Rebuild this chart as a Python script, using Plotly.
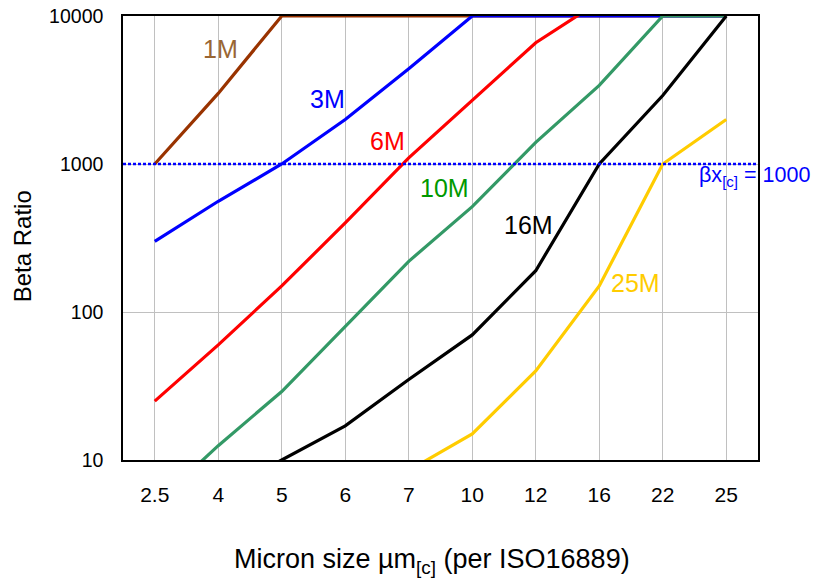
import plotly.graph_objects as go

categories = ["2.5", "4", "5", "6", "7", "10", "12", "16", "22", "25"]

beta_1M = [1000, 3000, 10000, 10000, 10000, 10000, 10000, 10000, 10000, 10000]
beta_3M = [300, 560, 1000, 2000, 4400, 10000, 10000, 10000, 10000, 10000]
beta_6M = [25, 60, 150, 400, 1100, 2700, 6600, 12500, None, None]
beta_10M = [5, 12.5, 29, 80, 220, 515, 1400, 3400, 10000, 10000]
beta_16M = [3, 6, 10, 17, 35, 70, 190, 1000, 2900, 10000]
beta_25M = [1, 2, 3.5, 5.5, 8.5, 15, 40, 150, 1000, 2000]

series_names = ["1M", "3M", "6M", "10M", "16M", "25M"]
series_values = [beta_1M, beta_3M, beta_6M, beta_10M, beta_16M, beta_25M]
line_colors = ["#993300", "#0000FF", "#FF0000", "#339966", "#000000", "#FFCC00"]
label_colors = ["#996633", "#0000FF", "#FF0000", "#009900", "#000000", "#FFCC00"]

threshold_value = 1000
y_ticks = [10, 100, 1000, 10000]

FONT = "Arial, Liberation Sans, sans-serif"

fig = go.Figure()
for name, vals, col in zip(series_names, series_values, line_colors):
    fig.add_trace(go.Scatter(
        x=categories, y=vals, mode="lines", name=name,
        line=dict(color=col, width=3.2), connectgaps=False,
        showlegend=False, hoverinfo="x+y+name"))

# reference line spanning full plot width
fig.add_trace(go.Scatter(
    x=[0, 1], y=[threshold_value, threshold_value], xaxis="x2", mode="lines",
    line=dict(color="#0000FF", width=2.5, dash="3px,2px"), showlegend=False,
    hoverinfo="skip"))

# page body has an 8px default margin; compensate so the plot sits where intended
OFF = 8
W, H = 820 - OFF, 581 - OFF
L, R, T, B = 122.7, 757.7, 16, 460   # target page pixel positions
pw, ph = R - L, B - T


def px(x):
    return (x - L) / pw


def py(y):
    return (B - y) / ph


label_pos = [(220, 49), (327.5, 99), (387, 141), (444, 188), (527.7, 225), (635, 283)]
annotations = []
for name, (x, y), col in zip(series_names, label_pos, label_colors):
    annotations.append(dict(
        x=px(x), y=py(y), xref="paper", yref="paper", text=name,
        showarrow=False, font=dict(family=FONT, size=25, color=col),
        xanchor="center", yanchor="middle"))

annotations.append(dict(
    x=px(697), y=py(176), xref="paper", yref="paper",
    text="βx<sub>[c]</sub> = 1000", showarrow=False,
    font=dict(family=FONT, size=21.5, color="#0000FF"),
    xanchor="left", yanchor="middle"))

annotations.append(dict(
    x=px(22), y=py(246), xref="paper", yref="paper",
    text="Beta Ratio", textangle=-90, showarrow=False,
    font=dict(family=FONT, size=24, color="#000000"),
    xanchor="center", yanchor="middle"))

annotations.append(dict(
    x=px(432), y=py(561), xref="paper", yref="paper",
    text="Micron size µm<sub>[c]</sub> (per ISO16889)", showarrow=False,
    font=dict(family=FONT, size=27, color="#000000"),
    xanchor="center", yanchor="middle"))

fig.update_layout(
    width=W, height=H,
    margin=dict(l=L - OFF, r=(820 - R), t=T - OFF, b=(581 - B), pad=0, autoexpand=False),
    paper_bgcolor="white", plot_bgcolor="white",
    font=dict(family=FONT, color="#000000"),
    annotations=annotations,
    xaxis=dict(
        type="category", categoryorder="array", categoryarray=categories,
        showgrid=True, gridcolor="#C0C0C0", gridwidth=1,
        showline=True, linecolor="#000000", linewidth=1.5, mirror=True,
        ticks="outside", ticklen=0, ticklabelstandoff=15,
        tickfont=dict(family=FONT, size=21, color="#000000"),
        zeroline=False, range=[-0.5, 9.5], fixedrange=True, automargin=False,
        ticklabeloverflow="allow"),
    xaxis2=dict(overlaying="x", range=[0, 1], visible=False, fixedrange=True),
    yaxis=dict(
        type="log", range=[1, 4], tickvals=y_ticks,
        ticktext=[str(v) for v in y_ticks],
        showgrid=True, gridcolor="#C0C0C0", gridwidth=1,
        showline=True, linecolor="#000000", linewidth=1.5, mirror=True,
        ticks="outside", ticklen=0, ticklabelstandoff=14,
        tickfont=dict(family=FONT, size=19.5, color="#000000"),
        zeroline=False, fixedrange=True, automargin=False,
        ticklabeloverflow="allow"),
)

fig.write_html("out.html")
